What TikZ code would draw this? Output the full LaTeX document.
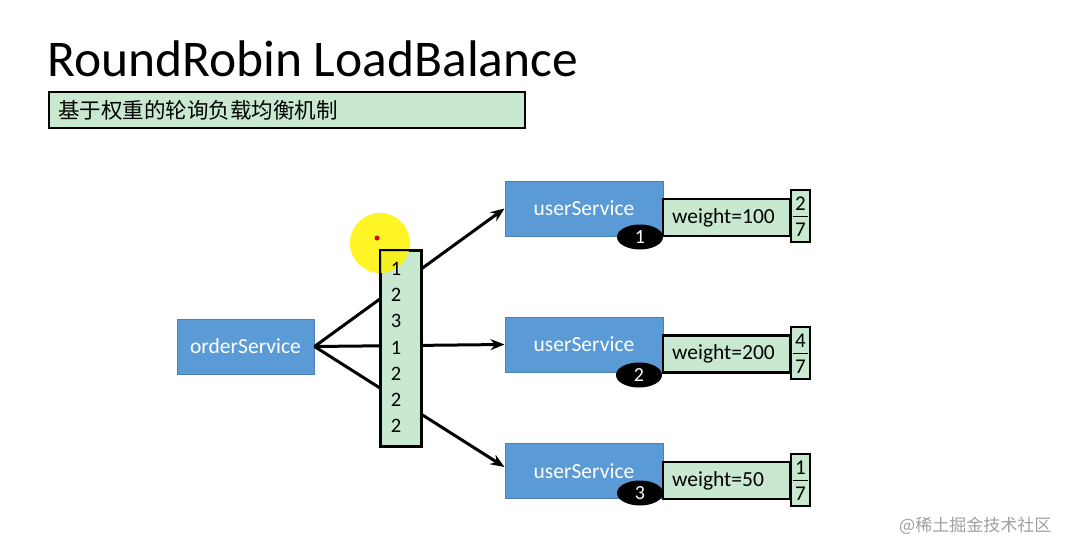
\documentclass[tikz,border=0pt]{standalone}
\usepackage{fontspec}
\setmainfont{Carlito}
\newfontfamily\cjk{Noto Sans CJK SC}
\usetikzlibrary{shapes.geometric,arrows.meta}
\definecolor{boxgreen}{HTML}{C9E8D0}
\definecolor{svcblue}{HTML}{5B9BD5}
\definecolor{svcborder}{HTML}{4A80B8}
\tikzset{
  svc/.style={draw=svcborder,line width=1pt,fill=svcblue,text=white,minimum width=#1,minimum height=55pt,inner sep=0pt,font=\fontsize{21.5}{24}\selectfont},
  svc/.default=158pt,
  gbox/.style={draw=black,line width=2.2pt,fill=boxgreen,inner sep=0pt},
  wbox/.style={gbox,minimum width=127pt,minimum height=37pt},
  badge/.style={ellipse,fill=black,text=white,minimum width=46pt,minimum height=25pt,inner sep=0pt,font=\fontsize{20}{22}\selectfont},
  conn/.style={line width=3pt,-{Stealth[length=14pt,width=11pt]}},
  num/.style={font=\fontsize{20.5}{22}\selectfont,inner sep=0pt},
  wtxt/.style={inner sep=0pt,anchor=west,font=\fontsize{21.5}{24}\selectfont},
  frac/.style={font=\fontsize{21}{22}\selectfont,inner sep=0pt}
}
\begin{document}
\begin{tikzpicture}[x=1pt,y=-1pt]
\useasboundingbox (0,0) rectangle (1077,554);
% title
\node[anchor=base west,inner sep=0pt,font=\fontsize{51.5}{56}\selectfont] (title) at (47,76) {RoundRobin LoadBalance};
\node[gbox,minimum width=476pt,minimum height=36pt] (sub) at (287,110) {};
\node[anchor=west,inner sep=0pt,font=\cjk\fontsize{21.5}{24}\selectfont] (subtxt) at (58,110) {基于权重的轮询负载均衡机制};
% services
\node[svc=137pt] (order) at (245.5,346.5) {orderService};
\node[svc] (u1) at (584,208.5) {userService};
\node[svc] (u2) at (584,344.5) {userService};
\node[svc] (u3) at (584,471) {userService};
% connectors (behind the list box)
\draw[conn] (order.east) -- (u1.west);
\draw[conn] (order.east) -- (u2.west);
\draw[conn] (order.east) -- (u3.west |- 0,467);
% list box
\node[gbox,minimum width=40pt,minimum height=195pt] (list) at (401,348.5) {};
% cursor highlight
\fill[yellow,opacity=0.85] (380,243) circle (30pt);
\fill[red!85!black] (377,238) circle (2.5pt);
\draw[line width=2.2pt] (list.south west) rectangle (list.north east);
\foreach \v [count=\i] in {1,2,3,1,2,2,2}
  \node[num] (n\i) at (396,{269+26.2*(\i-1)}) {\v};
% weight boxes
\node[wbox] (w1) at (726.5,217.5) {};
\node[wbox] (w2) at (726.5,354) {};
\node[wbox] (w3) at (726.5,480.5) {};
\node[wtxt] (w1t) at (w1.west -| 672,0) {weight=100};
\node[wtxt] (w2t) at (w2.west -| 672,0) {weight=200};
\node[wtxt] (w3t) at (w3.west -| 672,0) {weight=50};
% fraction boxes
\foreach \k/\cy/\a in {1/216/2,2/353/4,3/480/1}{
  \node[gbox,minimum width=19pt,minimum height=52pt] (f\k) at (800.5,\cy) {};
  \node[frac] (fa\k) at (800.5,\cy-12) {\a};
  \node[frac] (fb\k) at (800.5,\cy+14) {7};
  \draw[line width=1pt] ([xshift=3pt]f\k.west) -- ([xshift=-3pt]f\k.east);
}
% badges
\node[badge] (b1) at (640,237) {1};
\node[badge] (b2) at (639,375) {2};
\node[badge] (b3) at (640,493) {3};
% watermark
\node[anchor=west,inner sep=0pt,text=gray!75,font=\cjk\fontsize{17}{20}\selectfont] (wm) at (899,526) {@稀土掘金技术社区};
\end{tikzpicture}
\end{document}
